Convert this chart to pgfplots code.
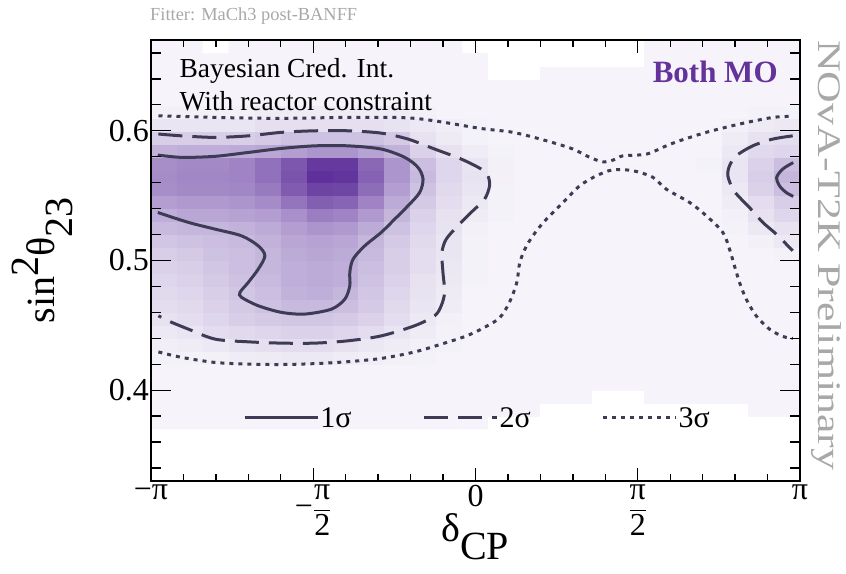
\documentclass[border=0pt]{standalone}
\usepackage{pgfplots}
\pgfplotsset{compat=1.18}
\usepackage{graphicx}
\usepackage{amsmath}
\usepackage{fontspec}
\setmainfont{Liberation Serif}
\newfontfamily\sansf{Liberation Sans}
\definecolor{contc}{RGB}{62,60,84}
\definecolor{mopurple}{RGB}{100,50,155}
\definecolor{prelim}{RGB}{168,168,168}
\pgfplotsset{colormap={purp}{rgb255(0pt)=(255,255,255); rgb255(4pt)=(246,244,250); rgb255(12pt)=(234,229,242); rgb255(22pt)=(219,210,234); rgb255(32pt)=(203,190,224); rgb255(45pt)=(184,164,212); rgb255(58pt)=(162,135,198); rgb255(72pt)=(138,104,182); rgb255(86pt)=(115,74,166); rgb255(100pt)=(95,48,155)}}
\pgfplotstableread[row sep=\\]{
x y c\\
-3.016 0.375 4\\-2.765 0.375 4\\-2.513 0.375 4\\-2.262 0.375 4\\-2.011 0.375 4\\-1.759 0.375 4\\-1.508 0.375 4\\-1.257 0.375 4\\-1.005 0.375 4\\-0.754 0.375 4\\-0.503 0.375 4\\-0.251 0.375 4\\0 0.375 4\\0.251 0.375 0\\0.503 0.375 0\\0.754 0.375 0\\1.005 0.375 0\\1.257 0.375 0\\1.508 0.375 0\\1.759 0.375 0\\2.011 0.375 0\\2.262 0.375 0\\2.513 0.375 0\\2.765 0.375 0\\3.016 0.375 0\\
-3.016 0.385 4\\-2.765 0.385 4\\-2.513 0.385 4\\-2.262 0.385 4\\-2.011 0.385 4\\-1.759 0.385 4\\-1.508 0.385 4\\-1.257 0.385 4\\-1.005 0.385 4\\-0.754 0.385 4\\-0.503 0.385 4\\-0.251 0.385 4\\0 0.385 4\\0.251 0.385 4\\0.503 0.385 4\\0.754 0.385 0\\1.005 0.385 0\\1.257 0.385 0\\1.508 0.385 0\\1.759 0.385 0\\2.011 0.385 0\\2.262 0.385 0\\2.513 0.385 0\\2.765 0.385 4\\3.016 0.385 4\\
-3.016 0.395 4\\-2.765 0.395 4\\-2.513 0.395 4\\-2.262 0.395 4\\-2.011 0.395 4\\-1.759 0.395 4\\-1.508 0.395 4\\-1.257 0.395 4\\-1.005 0.395 4\\-0.754 0.395 4\\-0.503 0.395 4\\-0.251 0.395 4\\0 0.395 4\\0.251 0.395 4\\0.503 0.395 4\\0.754 0.395 4\\1.005 0.395 4\\1.257 0.395 0\\1.508 0.395 0\\1.759 0.395 4\\2.011 0.395 4\\2.262 0.395 4\\2.513 0.395 4\\2.765 0.395 4\\3.016 0.395 4\\
-3.016 0.405 4\\-2.765 0.405 4\\-2.513 0.405 4\\-2.262 0.405 4\\-2.011 0.405 4\\-1.759 0.405 4\\-1.508 0.405 4\\-1.257 0.405 4\\-1.005 0.405 4\\-0.754 0.405 4\\-0.503 0.405 4\\-0.251 0.405 4\\0 0.405 4\\0.251 0.405 4\\0.503 0.405 4\\0.754 0.405 4\\1.005 0.405 4\\1.257 0.405 4\\1.508 0.405 4\\1.759 0.405 4\\2.011 0.405 4\\2.262 0.405 4\\2.513 0.405 4\\2.765 0.405 4\\3.016 0.405 4\\
-3.016 0.415 4\\-2.765 0.415 4\\-2.513 0.415 4\\-2.262 0.415 4\\-2.011 0.415 4\\-1.759 0.415 4\\-1.508 0.415 4\\-1.257 0.415 4\\-1.005 0.415 4\\-0.754 0.415 4\\-0.503 0.415 4\\-0.251 0.415 4\\0 0.415 4\\0.251 0.415 4\\0.503 0.415 4\\0.754 0.415 4\\1.005 0.415 4\\1.257 0.415 4\\1.508 0.415 4\\1.759 0.415 4\\2.011 0.415 4\\2.262 0.415 4\\2.513 0.415 4\\2.765 0.415 4\\3.016 0.415 4\\
-3.016 0.425 5\\-2.765 0.425 5\\-2.513 0.425 6\\-2.262 0.425 8\\-2.011 0.425 9\\-1.759 0.425 10\\-1.508 0.425 10\\-1.257 0.425 8\\-1.005 0.425 7\\-0.754 0.425 6\\-0.503 0.425 5\\-0.251 0.425 4\\0 0.425 4\\0.251 0.425 4\\0.503 0.425 4\\0.754 0.425 4\\1.005 0.425 4\\1.257 0.425 4\\1.508 0.425 4\\1.759 0.425 4\\2.011 0.425 4\\2.262 0.425 4\\2.513 0.425 4\\2.765 0.425 4\\3.016 0.425 4\\
-3.016 0.435 7\\-2.765 0.435 8\\-2.513 0.435 10\\-2.262 0.435 13\\-2.011 0.435 15\\-1.759 0.435 16\\-1.508 0.435 16\\-1.257 0.435 14\\-1.005 0.435 11\\-0.754 0.435 8\\-0.503 0.435 6\\-0.251 0.435 5\\0 0.435 4\\0.251 0.435 4\\0.503 0.435 4\\0.754 0.435 4\\1.005 0.435 4\\1.257 0.435 4\\1.508 0.435 4\\1.759 0.435 4\\2.011 0.435 4\\2.262 0.435 4\\2.513 0.435 4\\2.765 0.435 4\\3.016 0.435 4\\
-3.016 0.445 10\\-2.765 0.445 12\\-2.513 0.445 16\\-2.262 0.445 18\\-2.011 0.445 20\\-1.759 0.445 22\\-1.508 0.445 22\\-1.257 0.445 20\\-1.005 0.445 16\\-0.754 0.445 12\\-0.503 0.445 8\\-0.251 0.445 5\\0 0.445 4\\0.251 0.445 4\\0.503 0.445 4\\0.754 0.445 4\\1.005 0.445 4\\1.257 0.445 4\\1.508 0.445 4\\1.759 0.445 4\\2.011 0.445 4\\2.262 0.445 4\\2.513 0.445 4\\2.765 0.445 4\\3.016 0.445 4\\
-3.016 0.455 14\\-2.765 0.455 16\\-2.513 0.455 20\\-2.262 0.455 24\\-2.011 0.455 26\\-1.759 0.455 28\\-1.508 0.455 28\\-1.257 0.455 26\\-1.005 0.455 22\\-0.754 0.455 16\\-0.503 0.455 10\\-0.251 0.455 6\\0 0.455 4\\0.251 0.455 4\\0.503 0.455 4\\0.754 0.455 4\\1.005 0.455 4\\1.257 0.455 4\\1.508 0.455 4\\1.759 0.455 4\\2.011 0.455 4\\2.262 0.455 4\\2.513 0.455 4\\2.765 0.455 4\\3.016 0.455 4\\
-3.016 0.465 16\\-2.765 0.465 18\\-2.513 0.465 22\\-2.262 0.465 26\\-2.011 0.465 30\\-1.759 0.465 34\\-1.508 0.465 34\\-1.257 0.465 32\\-1.005 0.465 26\\-0.754 0.465 18\\-0.503 0.465 12\\-0.251 0.465 8\\0 0.465 4\\0.251 0.465 4\\0.503 0.465 4\\0.754 0.465 4\\1.005 0.465 4\\1.257 0.465 4\\1.508 0.465 4\\1.759 0.465 4\\2.011 0.465 4\\2.262 0.465 4\\2.513 0.465 4\\2.765 0.465 4\\3.016 0.465 4\\
-3.016 0.475 18\\-2.765 0.475 20\\-2.513 0.475 24\\-2.262 0.475 28\\-2.011 0.475 32\\-1.759 0.475 38\\-1.508 0.475 40\\-1.257 0.475 36\\-1.005 0.475 28\\-0.754 0.475 20\\-0.503 0.475 13\\-0.251 0.475 9\\0 0.475 4\\0.251 0.475 4\\0.503 0.475 4\\0.754 0.475 4\\1.005 0.475 4\\1.257 0.475 4\\1.508 0.475 4\\1.759 0.475 4\\2.011 0.475 4\\2.262 0.475 4\\2.513 0.475 4\\2.765 0.475 4\\3.016 0.475 4\\
-3.016 0.485 20\\-2.765 0.485 22\\-2.513 0.485 26\\-2.262 0.485 30\\-2.011 0.485 34\\-1.759 0.485 40\\-1.508 0.485 42\\-1.257 0.485 40\\-1.005 0.485 30\\-0.754 0.485 22\\-0.503 0.485 14\\-0.251 0.485 10\\0 0.485 5\\0.251 0.485 4\\0.503 0.485 4\\0.754 0.485 4\\1.005 0.485 4\\1.257 0.485 4\\1.508 0.485 4\\1.759 0.485 4\\2.011 0.485 4\\2.262 0.485 4\\2.513 0.485 4\\2.765 0.485 4\\3.016 0.485 4\\
-3.016 0.495 22\\-2.765 0.495 24\\-2.513 0.495 28\\-2.262 0.495 32\\-2.011 0.495 36\\-1.759 0.495 40\\-1.508 0.495 42\\-1.257 0.495 40\\-1.005 0.495 32\\-0.754 0.495 24\\-0.503 0.495 16\\-0.251 0.495 11\\0 0.495 5\\0.251 0.495 4\\0.503 0.495 4\\0.754 0.495 4\\1.005 0.495 4\\1.257 0.495 4\\1.508 0.495 4\\1.759 0.495 4\\2.011 0.495 4\\2.262 0.495 4\\2.513 0.495 4\\2.765 0.495 4\\3.016 0.495 4\\
-3.016 0.505 24\\-2.765 0.505 26\\-2.513 0.505 30\\-2.262 0.505 32\\-2.011 0.505 36\\-1.759 0.505 42\\-1.508 0.505 44\\-1.257 0.505 42\\-1.005 0.505 34\\-0.754 0.505 24\\-0.503 0.505 16\\-0.251 0.505 12\\0 0.505 5\\0.251 0.505 4\\0.503 0.505 4\\0.754 0.505 4\\1.005 0.505 4\\1.257 0.505 4\\1.508 0.505 4\\1.759 0.505 4\\2.011 0.505 4\\2.262 0.505 4\\2.513 0.505 4\\2.765 0.505 4\\3.016 0.505 5\\
-3.016 0.515 28\\-2.765 0.515 30\\-2.513 0.515 32\\-2.262 0.515 34\\-2.011 0.515 38\\-1.759 0.515 44\\-1.508 0.515 46\\-1.257 0.515 44\\-1.005 0.515 36\\-0.754 0.515 26\\-0.503 0.515 18\\-0.251 0.515 12\\0 0.515 5\\0.251 0.515 4\\0.503 0.515 4\\0.754 0.515 4\\1.005 0.515 4\\1.257 0.515 4\\1.508 0.515 4\\1.759 0.515 4\\2.011 0.515 4\\2.262 0.515 4\\2.513 0.515 4\\2.765 0.515 6\\3.016 0.515 10\\
-3.016 0.525 34\\-2.765 0.525 36\\-2.513 0.525 36\\-2.262 0.525 38\\-2.011 0.525 42\\-1.759 0.525 48\\-1.508 0.525 52\\-1.257 0.525 50\\-1.005 0.525 42\\-0.754 0.525 30\\-0.503 0.525 20\\-0.251 0.525 13\\0 0.525 6\\0.251 0.525 4\\0.503 0.525 4\\0.754 0.525 4\\1.005 0.525 4\\1.257 0.525 4\\1.508 0.525 4\\1.759 0.525 4\\2.011 0.525 4\\2.262 0.525 4\\2.513 0.525 5\\2.765 0.525 10\\3.016 0.525 14\\
-3.016 0.535 40\\-2.765 0.535 44\\-2.513 0.535 44\\-2.262 0.535 46\\-2.011 0.535 48\\-1.759 0.535 54\\-1.508 0.535 62\\-1.257 0.535 60\\-1.005 0.535 50\\-0.754 0.535 36\\-0.503 0.535 22\\-0.251 0.535 14\\0 0.535 8\\0.251 0.535 5\\0.503 0.535 4\\0.754 0.535 4\\1.005 0.535 4\\1.257 0.535 4\\1.508 0.535 4\\1.759 0.535 4\\2.011 0.535 4\\2.262 0.535 4\\2.513 0.535 6\\2.765 0.535 14\\3.016 0.535 20\\
-3.016 0.545 48\\-2.765 0.545 50\\-2.513 0.545 50\\-2.262 0.545 52\\-2.011 0.545 56\\-1.759 0.545 66\\-1.508 0.545 76\\-1.257 0.545 74\\-1.005 0.545 60\\-0.754 0.545 42\\-0.503 0.545 26\\-0.251 0.545 16\\0 0.545 10\\0.251 0.545 5\\0.503 0.545 4\\0.754 0.545 4\\1.005 0.545 4\\1.257 0.545 4\\1.508 0.545 4\\1.759 0.545 4\\2.011 0.545 4\\2.262 0.545 4\\2.513 0.545 8\\2.765 0.545 16\\3.016 0.545 24\\
-3.016 0.555 55\\-2.765 0.555 57\\-2.513 0.555 57\\-2.262 0.555 58\\-2.011 0.555 64\\-1.759 0.555 78\\-1.508 0.555 90\\-1.257 0.555 88\\-1.005 0.555 70\\-0.754 0.555 48\\-0.503 0.555 30\\-0.251 0.555 18\\0 0.555 12\\0.251 0.555 5\\0.503 0.555 4\\0.754 0.555 4\\1.005 0.555 4\\1.257 0.555 4\\1.508 0.555 4\\1.759 0.555 4\\2.011 0.555 4\\2.262 0.555 4\\2.513 0.555 10\\2.765 0.555 22\\3.016 0.555 32\\
-3.016 0.565 56\\-2.765 0.565 58\\-2.513 0.565 58\\-2.262 0.565 60\\-2.011 0.565 68\\-1.759 0.565 82\\-1.508 0.565 100\\-1.257 0.565 98\\-1.005 0.565 75\\-0.754 0.565 52\\-0.503 0.565 34\\-0.251 0.565 20\\0 0.565 13\\0.251 0.565 6\\0.503 0.565 4\\0.754 0.565 4\\1.005 0.565 4\\1.257 0.565 4\\1.508 0.565 4\\1.759 0.565 4\\2.011 0.565 4\\2.262 0.565 4\\2.513 0.565 12\\2.765 0.565 24\\3.016 0.565 36\\
-3.016 0.575 55\\-2.765 0.575 57\\-2.513 0.575 57\\-2.262 0.575 60\\-2.011 0.575 68\\-1.759 0.575 80\\-1.508 0.575 95\\-1.257 0.575 95\\-1.005 0.575 72\\-0.754 0.575 52\\-0.503 0.575 32\\-0.251 0.575 20\\0 0.575 12\\0.251 0.575 6\\0.503 0.575 4\\0.754 0.575 4\\1.005 0.575 4\\1.257 0.575 4\\1.508 0.575 4\\1.759 0.575 4\\2.011 0.575 4\\2.262 0.575 5\\2.513 0.575 12\\2.765 0.575 22\\3.016 0.575 32\\
-3.016 0.585 38\\-2.765 0.585 40\\-2.513 0.585 40\\-2.262 0.585 42\\-2.011 0.585 44\\-1.759 0.585 48\\-1.508 0.585 52\\-1.257 0.585 52\\-1.005 0.585 46\\-0.754 0.585 38\\-0.503 0.585 22\\-0.251 0.585 14\\0 0.585 8\\0.251 0.585 5\\0.503 0.585 4\\0.754 0.585 4\\1.005 0.585 4\\1.257 0.585 4\\1.508 0.585 4\\1.759 0.585 4\\2.011 0.585 4\\2.262 0.585 4\\2.513 0.585 10\\2.765 0.585 18\\3.016 0.585 20\\
-3.016 0.595 24\\-2.765 0.595 24\\-2.513 0.595 24\\-2.262 0.595 24\\-2.011 0.595 26\\-1.759 0.595 30\\-1.508 0.595 30\\-1.257 0.595 30\\-1.005 0.595 30\\-0.754 0.595 26\\-0.503 0.595 14\\-0.251 0.595 9\\0 0.595 5\\0.251 0.595 4\\0.503 0.595 4\\0.754 0.595 4\\1.005 0.595 4\\1.257 0.595 4\\1.508 0.595 4\\1.759 0.595 4\\2.011 0.595 4\\2.262 0.595 4\\2.513 0.595 8\\2.765 0.595 14\\3.016 0.595 16\\
-3.016 0.605 12\\-2.765 0.605 12\\-2.513 0.605 12\\-2.262 0.605 12\\-2.011 0.605 15\\-1.759 0.605 15\\-1.508 0.605 15\\-1.257 0.605 15\\-1.005 0.605 15\\-0.754 0.605 13\\-0.503 0.605 10\\-0.251 0.605 7\\0 0.605 5\\0.251 0.605 4\\0.503 0.605 4\\0.754 0.605 4\\1.005 0.605 4\\1.257 0.605 4\\1.508 0.605 4\\1.759 0.605 4\\2.011 0.605 4\\2.262 0.605 4\\2.513 0.605 6\\2.765 0.605 9\\3.016 0.605 10\\
-3.016 0.615 6\\-2.765 0.615 6\\-2.513 0.615 6\\-2.262 0.615 6\\-2.011 0.615 8\\-1.759 0.615 8\\-1.508 0.615 8\\-1.257 0.615 8\\-1.005 0.615 8\\-0.754 0.615 8\\-0.503 0.615 6\\-0.251 0.615 4\\0 0.615 4\\0.251 0.615 4\\0.503 0.615 4\\0.754 0.615 4\\1.005 0.615 4\\1.257 0.615 4\\1.508 0.615 4\\1.759 0.615 4\\2.011 0.615 4\\2.262 0.615 4\\2.513 0.615 4\\2.765 0.615 5\\3.016 0.615 5\\
-3.016 0.625 4\\-2.765 0.625 4\\-2.513 0.625 4\\-2.262 0.625 4\\-2.011 0.625 4\\-1.759 0.625 4\\-1.508 0.625 4\\-1.257 0.625 4\\-1.005 0.625 4\\-0.754 0.625 4\\-0.503 0.625 4\\-0.251 0.625 4\\0 0.625 4\\0.251 0.625 4\\0.503 0.625 4\\0.754 0.625 4\\1.005 0.625 4\\1.257 0.625 4\\1.508 0.625 4\\1.759 0.625 4\\2.011 0.625 4\\2.262 0.625 4\\2.513 0.625 4\\2.765 0.625 4\\3.016 0.625 4\\
-3.016 0.635 4\\-2.765 0.635 4\\-2.513 0.635 4\\-2.262 0.635 4\\-2.011 0.635 4\\-1.759 0.635 4\\-1.508 0.635 4\\-1.257 0.635 4\\-1.005 0.635 4\\-0.754 0.635 4\\-0.503 0.635 4\\-0.251 0.635 4\\0 0.635 4\\0.251 0.635 4\\0.503 0.635 4\\0.754 0.635 4\\1.005 0.635 4\\1.257 0.635 4\\1.508 0.635 4\\1.759 0.635 4\\2.011 0.635 4\\2.262 0.635 4\\2.513 0.635 4\\2.765 0.635 4\\3.016 0.635 4\\
-3.016 0.645 4\\-2.765 0.645 4\\-2.513 0.645 4\\-2.262 0.645 4\\-2.011 0.645 4\\-1.759 0.645 4\\-1.508 0.645 4\\-1.257 0.645 4\\-1.005 0.645 4\\-0.754 0.645 4\\-0.503 0.645 4\\-0.251 0.645 4\\0 0.645 4\\0.251 0.645 0\\0.503 0.645 0\\0.754 0.645 4\\1.005 0.645 4\\1.257 0.645 4\\1.508 0.645 4\\1.759 0.645 4\\2.011 0.645 4\\2.262 0.645 4\\2.513 0.645 4\\2.765 0.645 4\\3.016 0.645 4\\
-3.016 0.655 4\\-2.765 0.655 4\\-2.513 0.655 4\\-2.262 0.655 4\\-2.011 0.655 4\\-1.759 0.655 4\\-1.508 0.655 4\\-1.257 0.655 4\\-1.005 0.655 4\\-0.754 0.655 4\\-0.503 0.655 4\\-0.251 0.655 4\\0 0.655 4\\0.251 0.655 0\\0.503 0.655 0\\0.754 0.655 0\\1.005 0.655 0\\1.257 0.655 0\\1.508 0.655 0\\1.759 0.655 4\\2.011 0.655 4\\2.262 0.655 4\\2.513 0.655 4\\2.765 0.655 4\\3.016 0.655 4\\
-3.016 0.665 4\\-2.765 0.665 4\\-2.513 0.665 0\\-2.262 0.665 4\\-2.011 0.665 4\\-1.759 0.665 4\\-1.508 0.665 4\\-1.257 0.665 4\\-1.005 0.665 4\\-0.754 0.665 4\\-0.503 0.665 4\\-0.251 0.665 4\\0 0.665 0\\0.251 0.665 0\\0.503 0.665 0\\0.754 0.665 0\\1.005 0.665 0\\1.257 0.665 0\\1.508 0.665 0\\1.759 0.665 4\\2.011 0.665 4\\2.262 0.665 4\\2.513 0.665 4\\2.765 0.665 4\\3.016 0.665 4\\
}\heat
\begin{document}
\begin{tikzpicture}
\begin{axis}[
  at={(151pt,92pt)}, anchor=south west,
  scale only axis, width=649pt, height=441pt,
  xmin=-3.14159265, xmax=3.14159265, ymin=0.33, ymax=0.67,
  colormap name=purp, point meta min=0, point meta max=100,
  axis on top,
  axis line style={line width=2.4pt, black},
  xtick={-3.14159265,-1.5707963,0,1.5707963,3.14159265},
  xticklabels={{−π},{$\mbox{−}\dfrac{\mbox{π}}{\mbox{2}}$},{0},{$\dfrac{\mbox{π}}{\mbox{2}}$},{π}},
  minor xtick={-2.8274,-2.5133,-2.1991,-1.8850,-1.2566,-0.9425,-0.6283,-0.3142,0.3142,0.6283,0.9425,1.2566,1.8850,2.1991,2.5133,2.8274},
  ytick={0.4,0.5,0.6},
  yticklabels={0.4,0.5,0.6},
  minor ytick={0.34,0.36,0.38,0.42,0.44,0.46,0.48,0.52,0.54,0.56,0.58,0.62,0.64,0.66},
  tick align=inside,
  tick style={black, line width=1.3pt},
  major tick length=20pt, minor tick length=10pt,
  xtick style={/pgfplots/major tick length=13pt, /pgfplots/minor tick length=7pt},
  ticklabel style={font=\fontsize{32}{32}\selectfont, inner sep=1pt},
  xticklabel style={anchor=north, yshift=-3pt},
  yticklabel style={anchor=east, xshift=-1pt},
  xlabel={$\mbox{δ}_{\mbox{CP}}$},
  ylabel={$\mbox{sin}^{\mbox{2}}\mbox{θ}_{\mbox{23}}$},
  label style={font=\fontsize{40}{40}\selectfont},
  xlabel style={at={(axis description cs:0.5,-0.138)}, anchor=base},
  ylabel style={at={(axis description cs:-0.148,0.501)}, anchor=base},
  legend columns=3,
  legend style={at={(axis description cs:0.142,0.143)}, anchor=west, draw=none, fill=none,
    font=\fontsize{30}{30}\selectfont, inner sep=0pt, nodes={inner sep=1pt},
    /tikz/every even column/.append style={column sep=70pt}},
  legend image code/.code={\draw[#1] (0pt,0pt) -- (73pt,0pt);},
]
\addplot[matrix plot*, mesh/cols=25, point meta=explicit, forget plot] table[x=x, y=y, meta=c] {\heat};

\addplot[contc, line width=3pt, smooth, tension=0.5] coordinates {
(-3.076,0.5813) (-2.845,0.5795) (-2.522,0.5803) (-2.200,0.5833) (-1.878,0.5864) (-1.555,0.5884) (-1.233,0.5884) (-0.912,0.5859) (-0.685,0.5795) (-0.557,0.5718) (-0.508,0.5628) (-0.540,0.5525) (-0.653,0.5422) (-0.782,0.5319) (-0.912,0.5217) (-1.072,0.5113) (-1.185,0.5011) (-1.217,0.4908) (-1.217,0.4805) (-1.265,0.4702) (-1.395,0.4625) (-1.652,0.4587) (-1.878,0.4600) (-2.103,0.4651) (-2.265,0.4716) (-2.280,0.4754) (-2.200,0.4831) (-2.103,0.4934) (-2.039,0.5036) (-2.103,0.5113) (-2.265,0.5190) (-2.522,0.5242) (-2.780,0.5294) (-3.076,0.5370)};
\addlegendentry{1σ}
\addplot[contc, line width=3pt, smooth, tension=0.5, forget plot] coordinates {
(3.076,0.5755) (2.974,0.5705) (2.916,0.5641) (2.943,0.5576) (3.007,0.5525) (3.076,0.5494)};

\addplot[contc, line width=3pt, smooth, tension=0.5, dash pattern=on 24pt off 10pt] coordinates {
(-3.070,0.5975) (-2.845,0.5961) (-2.522,0.5949) (-2.200,0.5961) (-1.878,0.5988) (-1.555,0.6000) (-1.233,0.6000) (-0.912,0.5982) (-0.653,0.5936) (-0.395,0.5859) (-0.138,0.5782) (0.055,0.5705) (0.120,0.5653) (0.136,0.5576) (0.088,0.5473) (-0.042,0.5371) (-0.170,0.5268) (-0.283,0.5165) (-0.325,0.5062) (-0.315,0.4908) (-0.299,0.4754) (-0.332,0.4651) (-0.395,0.4574) (-0.589,0.4497) (-0.912,0.4419) (-1.233,0.4381) (-1.555,0.4363) (-1.878,0.4363) (-2.200,0.4373) (-2.522,0.4394) (-2.780,0.4471) (-2.973,0.4534) (-3.070,0.4574)};
\addlegendentry{2σ}
\addplot[contc, line width=3pt, smooth, tension=0.5, dash pattern=on 24pt off 10pt, forget plot] coordinates {
(3.071,0.5961) (2.878,0.5936) (2.684,0.5884) (2.524,0.5807) (2.459,0.5730) (2.443,0.5653) (2.491,0.5550) (2.556,0.5487) (2.652,0.5409) (2.781,0.5294) (2.911,0.5204) (3.071,0.5075)};

\addplot[contc, line width=3pt, smooth, tension=0.5, dash pattern=on 4pt off 5pt] coordinates {
(-3.069,0.6116) (-2.522,0.6103) (-1.878,0.6096) (-1.233,0.6103) (-0.589,0.6096) (0.043,0.6019) (0.364,0.5988) (0.687,0.5923) (0.944,0.5859) (1.106,0.5795) (1.234,0.5761) (1.331,0.5774) (1.428,0.5807) (1.654,0.5820) (1.847,0.5884) (1.976,0.5923) (2.234,0.5988) (2.556,0.6052) (2.878,0.6103) (3.071,0.6111)};
\addlegendentry{3σ}
\addplot[contc, line width=3pt, smooth, tension=0.5, dash pattern=on 4pt off 5pt, forget plot] coordinates {
(-3.070,0.4295) (-2.845,0.4253) (-2.522,0.4214) (-2.200,0.4201) (-1.878,0.4198) (-1.555,0.4205) (-1.233,0.4220) (-0.912,0.4245) (-0.589,0.4295) (-0.332,0.4355) (-0.086,0.4419) (0.100,0.4490) (0.236,0.4560) (0.330,0.4680) (0.400,0.4831) (0.429,0.4985) (0.494,0.5113) (0.591,0.5229) (0.687,0.5319) (0.848,0.5448) (1.009,0.5576) (1.171,0.5653) (1.331,0.5699) (1.524,0.5692) (1.718,0.5641) (1.847,0.5550) (2.072,0.5448) (2.234,0.5345) (2.394,0.5217) (2.459,0.5088) (2.507,0.4959) (2.556,0.4831) (2.621,0.4702) (2.717,0.4574) (2.846,0.4471) (2.974,0.4415) (3.071,0.4399)};

\node[anchor=base west, font=\fontsize{27.5}{30}\selectfont] at (axis description cs:0.0385,0.916) {Bayesian Cred. Int.};
\node[anchor=base west, font=\fontsize{27.5}{30}\selectfont] at (axis description cs:0.0385,0.841) {With reactor constraint};
\node[anchor=base east, font=\fontsize{31}{31}\selectfont\bfseries, text=mopurple] at (axis description cs:0.971,0.9025) {Both MO};
\end{axis}
\node[anchor=base west, inner sep=0pt, font=\fontsize{18.4}{19}\selectfont, text=prelim] at (150pt,552pt) {Fitter: MaCh3 post-BANFF};
\node[anchor=base west, rotate=-90, inner sep=0pt, font=\fontsize{33}{33}\selectfont, text=prelim] at (818pt,533pt) {\scalebox{1.33}[1]{NOvA-T2K Preliminary}};
\pgfresetboundingbox
\path[use as bounding box] (0pt,0pt) rectangle (846pt,573pt);
\end{tikzpicture}
\end{document}
